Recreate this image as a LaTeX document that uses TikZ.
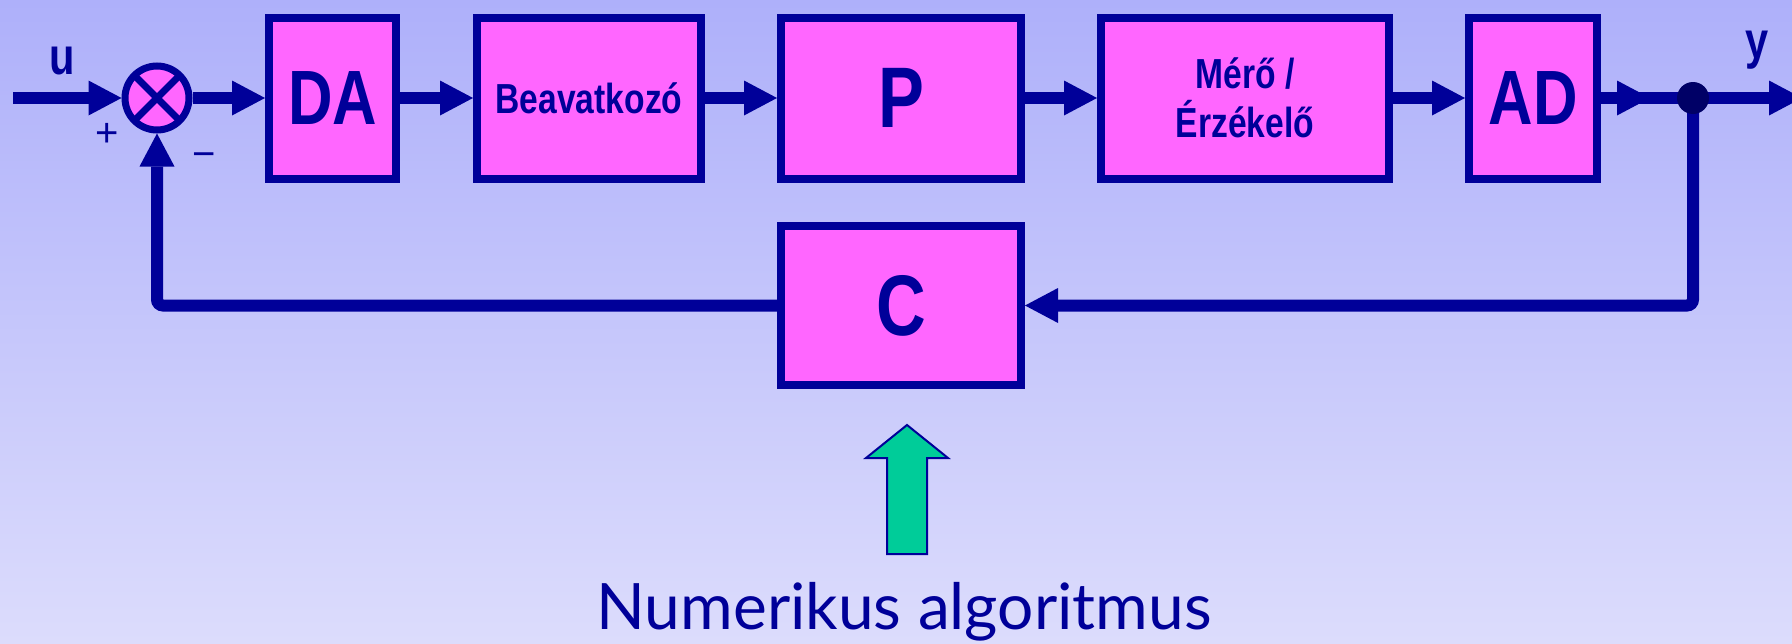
\documentclass[tikz,border=0pt]{standalone}
\usepackage{fontspec}
\setmainfont{Liberation Sans}
\newfontfamily\boxfont[FakeStretch=0.8]{Liberation Sans}
\newfontfamily\notefont{Lato}
\usetikzlibrary{arrows.meta}

\definecolor{navy}{RGB}{0,0,153}
\definecolor{dotnavy}{RGB}{0,0,102}
\definecolor{boxpink}{RGB}{255,102,255}
\definecolor{algogreen}{RGB}{0,204,153}
\definecolor{bgtop}{RGB}{174,176,250}
\definecolor{bgbottom}{RGB}{220,220,252}

\pgfdeclarelayer{backdrop}
\pgfdeclarelayer{wires}
\pgfsetlayers{backdrop,wires,main}

\newcommand{\bsize}[1]{\fontsize{#1}{#1}\selectfont}

\tikzset{
  block/.style={draw=navy, fill=boxpink, line width=8pt, inner sep=0pt,
    minimum height=161pt, text=navy, font=\boxfont\bfseries},
  wire/.style={draw=navy, line width=12pt},
  flow/.style={wire, -{Triangle[length=33pt,width=35pt,line width=0pt]}},
  sign/.style={text=navy, inner sep=0pt},
}

\begin{document}
\begin{tikzpicture}[x=1pt,y=-1pt]
  % backdrop
  \begin{pgfonlayer}{backdrop}
    \shade[top color=bgtop, bottom color=bgbottom] (0,0) rectangle (1792,643);
  \end{pgfonlayer}
  \useasboundingbox (0,0) rectangle (1792,643);

  % summing junction
  \node[circle, draw=navy, fill=boxpink, line width=7pt, minimum size=64pt, inner sep=0pt] (sum) at (157,98) {};
  \draw[navy, line width=7pt] (sum.center) +(45:30pt) -- +(225:30pt);
  \draw[navy, line width=7pt] (sum.center) +(135:30pt) -- +(315:30pt);

  % forward path blocks
  \node[block, minimum width=127pt, font=\boxfont\bfseries\bsize{77}] (DA) at (332.5,98) {DA};
  \node[block, minimum width=224pt, font=\boxfont\bfseries\bsize{42}] (Bea) at (589,98) {Beavatkozó};
  \node[block, minimum width=240pt, font=\boxfont\bfseries\bsize{86}] (P) at (901,98) {P};
  \node[block, minimum width=288pt, align=center, font=\boxfont\bfseries\fontsize{42}{49}\selectfont] (Mero) at (1245,98) {Mérő /\\Érzékelő};
  \node[block, minimum width=128pt, font=\boxfont\bfseries\bsize{77}] (AD) at (1533,98) {AD};

  % feedback block
  \node[block, minimum width=240pt, minimum height=159pt, font=\boxfont\bfseries\bsize{86}] (C) at (901,305.5) {C};

  % branch point
  \node[circle, fill=dotnavy, minimum size=32pt, inner sep=0pt] (dot) at (1693,98) {};

  % signal labels
  \node[sign, font=\boxfont\bfseries\bsize{52}] (ulabel) at (62,61) {u};
  \node[sign, font=\boxfont\bfseries\bsize{52}] (ylabel) at (1757,50) {y};
  \node[sign, font=\bsize{40}] (plus) at (107,135) {+};
  \node[sign, font=\bsize{40}] (minus) at (204,160) {−};

  % free ends of connectors
  \coordinate (uin) at (13,98);
  \coordinate (adtip) at (1650,98);
  \coordinate (yout) at (1802,98);

  \begin{pgfonlayer}{wires}
    \draw[flow] (uin) -- (sum);
    \draw[flow] (sum) -- (DA);
    \draw[flow] (DA) -- (Bea);
    \draw[flow] (Bea) -- (P);
    \draw[flow] (P) -- (Mero);
    \draw[flow] (Mero) -- (AD);
    \draw[wire] (AD.east) -- (dot.center);
    \draw[flow] (AD.east) -- (adtip);
    \draw[flow] (dot.center) -- (yout);
    \draw[flow, rounded corners=6pt] (dot.center) |- (C.east);
    \draw[flow, rounded corners=6pt] (C.west) -| (sum.south);
  \end{pgfonlayer}

  % algorithm input arrow and caption
  \draw[draw=navy, line width=2pt, fill=algogreen, line join=miter]
    (907,425) -- (948,458) -- (927,458) -- (927,554) -- (887,554) -- (887,458) -- (866,458) -- cycle;
  \node[anchor=base, text=navy, inner sep=0pt, font=\notefont\bsize{64}] (algo) at (904,629) {Numerikus algoritmus};
\end{tikzpicture}
\end{document}
